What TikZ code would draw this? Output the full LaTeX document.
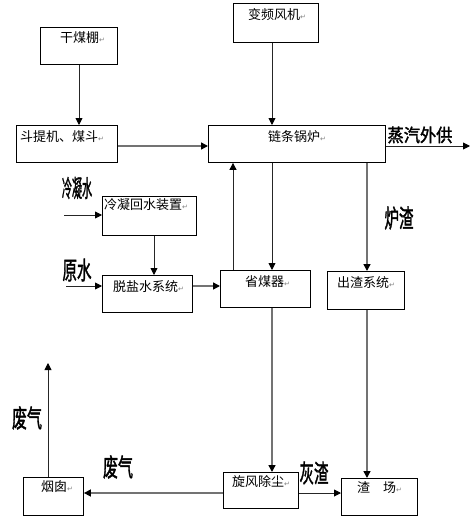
\documentclass[tikz,border=0pt]{standalone}
\usepackage{fontspec}
\newfontfamily\cjk{Noto Sans CJK SC}
\newfontfamily\cjkb[FakeBold=2]{Noto Sans CJK SC}
\newfontfamily\dvsans{DejaVu Sans}
\usetikzlibrary{arrows.meta}
\newcommand\retmark{{\dvsans\fontsize{7}{7}\selectfont\textcolor{gray}{↵}}}
\tikzset{
 box/.style={draw, line width=0.9pt, inner sep=0pt, anchor=north west},
 txt/.style={anchor=west, inner sep=0pt, font=\cjk\fontsize{13}{13}\selectfont},
 lbl/.style={inner sep=0pt, font=\cjkb\fontsize{25}{25}\selectfont},
 conn/.style={line width=0.9pt, draw=black!85, -{Triangle[length=7pt,width=7pt,black]}},
 gconn/.style={line width=1.5pt, draw=black!55, -{Triangle[length=7pt,width=7pt,black]}},
}
\begin{document}
\begin{tikzpicture}[x=1pt,y=-1pt]
\useasboundingbox (0,0) rectangle (475,522);
% boxes
\node[box, minimum width=77pt, minimum height=37pt] (gm) at (40,27) {};
\node[box, minimum width=85pt, minimum height=39pt] (bp) at (233,3) {};
\node[box, minimum width=101pt, minimum height=37pt] (dt) at (16,125) {};
\node[box, minimum width=177pt, minimum height=37pt] (gl) at (208,125) {};
\node[box, minimum width=94pt, minimum height=39pt] (ln) at (102,196) {};
\node[box, minimum width=90pt, minimum height=37pt] (ty) at (102,275) {};
\node[box, minimum width=90pt, minimum height=37pt] (sm) at (220,270) {};
\node[box, minimum width=77pt, minimum height=38pt] (cz) at (327,271) {};
\node[box, minimum width=60pt, minimum height=38pt] (yc) at (23,477) {};
\node[box, minimum width=75pt, minimum height=36pt] (xf) at (223,472) {};
\node[box, minimum width=76pt, minimum height=37pt] (zc) at (341,478) {};
% box texts
\node[txt] (tgm) at (60,38) {干煤棚\retmark};
\node[txt] (tbp) at (248,15) {变频风机\retmark};
\node[txt] (tdt) at (20,137) {斗提机、煤斗\retmark};
\node[txt] (tgl) at (268,137) {链条锅炉\retmark};
\node[txt] (tln) at (104,205) {冷凝回水装置\retmark};
\node[txt] (tty) at (113,287) {脱盐水系统\retmark};
\node[txt] (tsm) at (245,282) {省煤器\retmark};
\node[txt] (tcz) at (337,283) {出渣系统\retmark};
\node[txt] (tyc) at (41,487) {烟囱\retmark};
\node[txt] (txf) at (232,482) {旋风除尘\retmark};
\node[txt] (tzc) at (357,488) {渣　场\retmark};
% labels
\node[lbl, font=\cjkb\fontsize{18}{18}\selectfont] (lq) at (420,135) {\scalebox{0.9}[1]{蒸汽外供}};
\node[lbl] (lz) at (399,218) {\scalebox{0.58}[1]{炉渣}};
\node[lbl, font=\cjkb\fontsize{24}{24}\selectfont] (ll) at (77,188) {\scalebox{0.42}[1]{冷凝水}};
\node[lbl] (ly) at (77,270) {\scalebox{0.58}[1]{原水}};
\node[lbl] (lf1) at (27,418) {\scalebox{0.6}[1]{废气}};
\node[lbl] (lf2) at (118,467) {\scalebox{0.6}[1]{废气}};
\node[lbl] (lh) at (314,473) {\scalebox{0.58}[1]{灰渣}};
% free ends
\coordinate (steam) at (470,146);
\coordinate (lnin) at (64,215);
\coordinate (yin) at (66,286);
\coordinate (up) at (48,363);
% connectors
\draw[conn] (gm.south -| 79,0) -- (dt.north -| 79,0);
\draw[conn] (bp.south -| 272,0) -- (gl.north -| 272,0);
\draw[gconn] (dt.east |- 0,146) -- (gl.west |- 0,146);
\draw[conn] (gl.east |- steam) -- (steam);
\draw[conn] (lnin) -- (ln.west |- lnin);
\draw[conn] (yin) -- (ty.west |- yin);
\draw[conn] (ln.south -| 154,0) -- (ty.north -| 154,0);
\draw[gconn] (ty.east |- 0,286) -- (sm.west |- 0,286);
\draw[conn] (sm.north -| 233,0) -- (gl.south -| 233,0);
\draw[conn] (gl.south -| 272,0) -- (sm.north -| 272,0);
\draw[gconn] (gl.south -| 367,0) -- (cz.north -| 367,0);
\draw[gconn] (sm.south -| 272,0) -- (xf.north -| 272,0);
\draw[gconn] (cz.south -| 367,0) -- (zc.north -| 367,0);
\draw[gconn] (xf.west |- 0,493) -- (yc.east |- 0,493);
\draw[conn] (xf.east |- 0,493) -- (zc.west |- 0,493);
\draw[conn] (yc.north -| up) -- (up);
\end{tikzpicture}
\end{document}
